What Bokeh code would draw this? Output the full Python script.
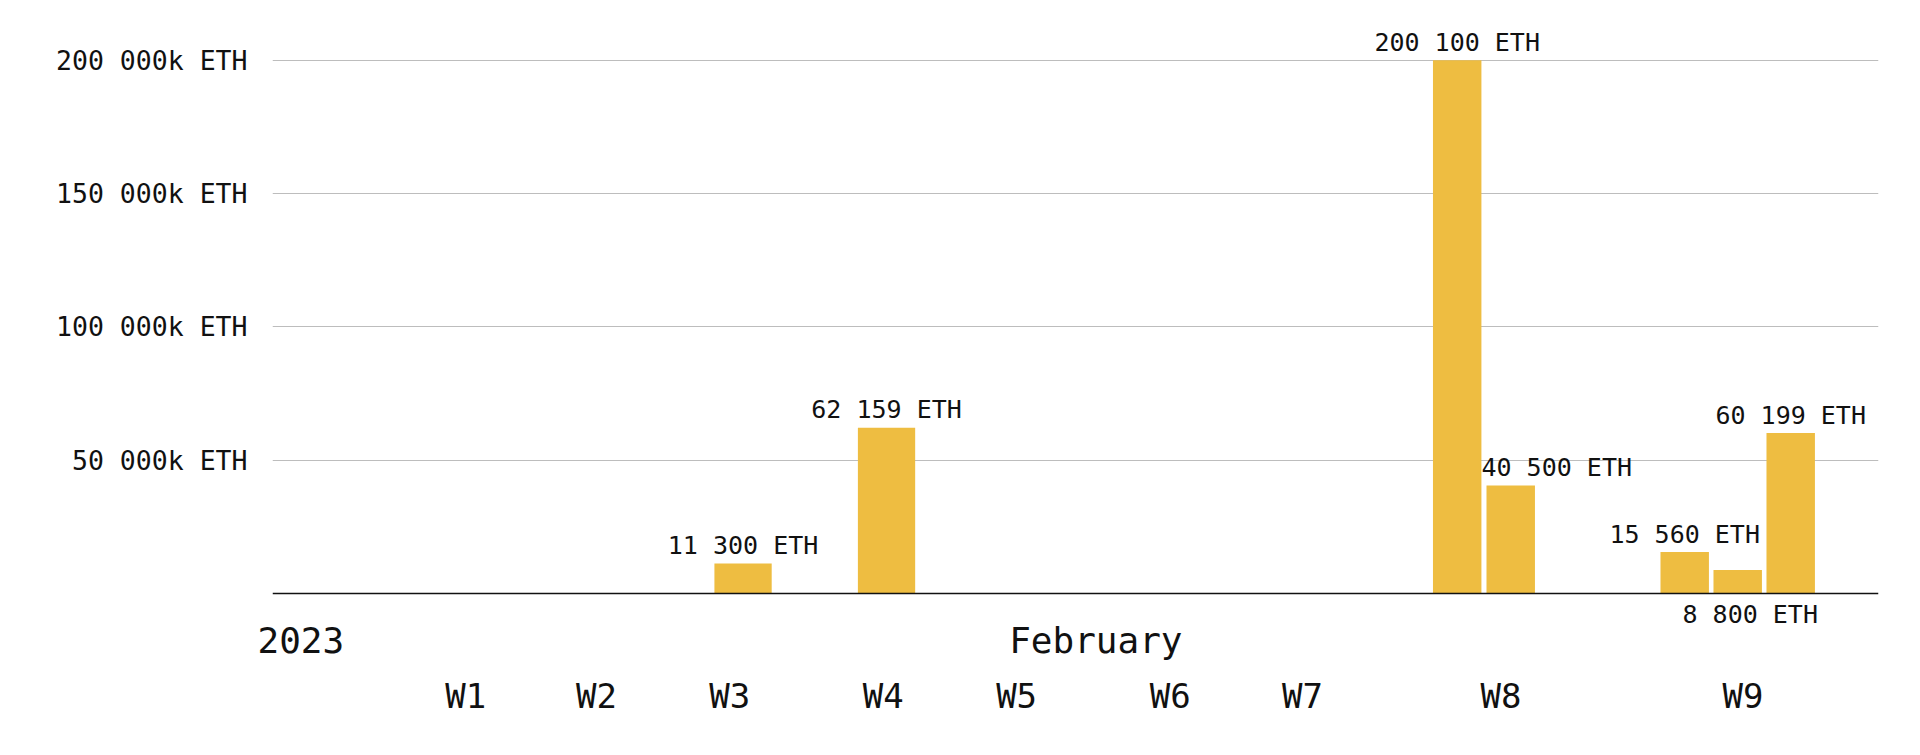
from bokeh.plotting import figure
from bokeh.models import (ColumnDataSource, Range1d, FixedTicker, LinearAxis,
                          Span)
from bokeh.core.properties import value
from bokeh.embed import file_html
from bokeh.resources import INLINE

# ---- data ----
week_labels = ["W1", "W2", "W3", "W4", "W5", "W6", "W7", "W8", "W9"]
week_ticks = [3.61, 6.05, 8.54, 11.41, 13.90, 16.77, 19.24, 22.95, 27.47]
period_labels = ["2023", "February"]
period_ticks = [0.53, 15.38]
bar_week = ["W3", "W4", "W8", "W8", "W9", "W9", "W9"]
bar_x = [8.79, 11.47, 22.13, 23.13, 26.38, 27.37, 28.36]
bar_values = [11300, 62159, 200100, 40500, 15560, 8800, 60199]
y_ticks = [50000, 100000, 150000, 200000]

# ---- styling ----
BAR_COLOR = "#EEBD41"
MONO = "DejaVu Sans Mono"
TXT = "#111111"

def fmt(v):
    return f"{v:,}".replace(",", " ")

widths = [1.07 if bar_week.count(w) == 1 else 0.905 for w in bar_week]
labels = [fmt(v) + " ETH" for v in bar_values]
# label nudges (screen px) used by the original to avoid overlaps
dx = [0, 0, 0, 46, 0, 12.5, 0]
below = [False, False, False, False, False, True, False]
label_y = [0 if b else v for v, b in zip(bar_values, below)]
label_dy = [21 if b else -18 for b in below]

src = ColumnDataSource(dict(x=bar_x, top=bar_values, w=widths))
lsrc = ColumnDataSource(dict(x=bar_x, y=label_y, text=labels,
                             dx=dx, dy=label_dy))

p = figure(width=1912, height=745, output_backend="svg", toolbar_location=None,
           x_range=Range1d(0, 30), y_range=Range1d(-12000, 215000),
           min_border_left=272, min_border_right=34, min_border_top=20,
           min_border_bottom=120, x_axis_location=None, y_axis_location=None)
p.outline_line_color = None
p.background_fill_color = "white"
p.border_fill_color = "white"

p.xgrid.visible = False
p.ygrid.ticker = FixedTicker(ticks=y_ticks)
p.ygrid.grid_line_color = "#bdbdbd"
p.ygrid.grid_line_width = 1

p.vbar(x="x", top="top", width="w", bottom=0, source=src,
       fill_color=BAR_COLOR, line_color=None)

# baseline (x axis line at zero)
p.add_layout(Span(location=0, dimension="width", line_color="#111111",
                  line_width=1.5))

p.text(x="x", y="y", text="text", x_offset="dx", y_offset="dy", source=lsrc,
       text_align="center", text_baseline="alphabetic",
       text_font=value(MONO), text_font_size="25px", text_color=TXT)

# y axis
yax = LinearAxis(ticker=FixedTicker(ticks=y_ticks))
yax.major_label_overrides = {t: fmt(t) + "k ETH" for t in y_ticks}
yax.axis_line_color = None
yax.major_tick_line_color = None
yax.minor_tick_line_color = None
yax.major_label_standoff = 19
yax.major_label_text_font = MONO
yax.major_label_text_font_size = "26.5px"
yax.major_label_text_color = TXT
p.add_layout(yax, "left")

# inner x axis: year / month
pax = LinearAxis(ticker=FixedTicker(ticks=period_ticks))
pax.major_label_overrides = dict(zip(period_ticks, period_labels))
pax.axis_line_color = None
pax.major_tick_line_color = None
pax.minor_tick_line_color = None
pax.major_tick_out = 0
pax.major_label_standoff = -6
pax.major_label_text_font = MONO
pax.major_label_text_font_size = "36px"
pax.major_label_text_color = TXT
p.add_layout(pax, "below")

# outer x axis: weeks
wax = LinearAxis(ticker=FixedTicker(ticks=week_ticks))
wax.major_label_overrides = dict(zip(week_ticks, week_labels))
wax.axis_line_color = None
wax.major_tick_line_color = None
wax.minor_tick_line_color = None
wax.major_tick_out = 0
wax.major_label_standoff = 12
wax.major_label_text_font = MONO
wax.major_label_text_font_size = "34px"
wax.major_label_text_color = TXT
p.add_layout(wax, "below")

open("out.html", "w").write(file_html(p, INLINE))
